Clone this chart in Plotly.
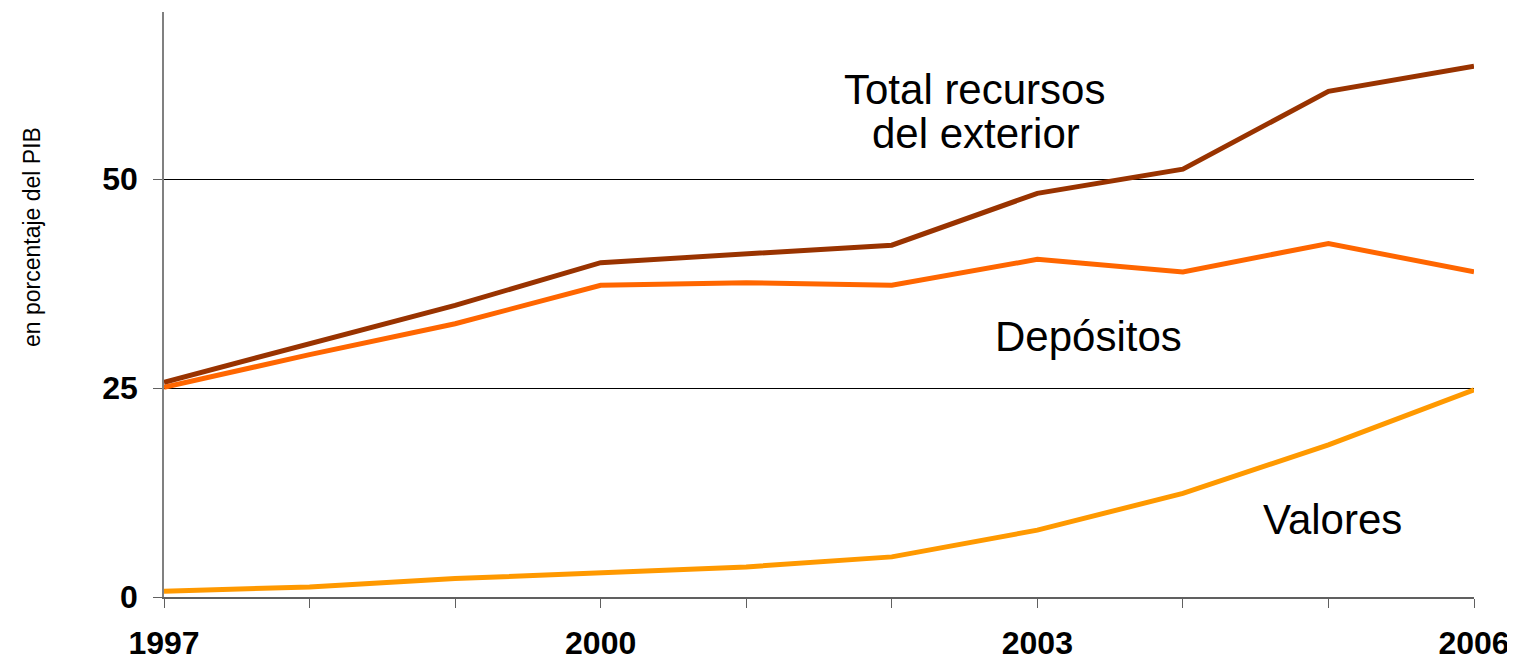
import plotly.graph_objects as go

years = [1997, 1998, 1999, 2000, 2001, 2002, 2003, 2004, 2005, 2006]
total_recursos = [25.7, 30.3, 34.9, 40.0, 41.1, 42.1, 48.3, 51.2, 60.5, 63.5]
depositos = [25.1, 29.0, 32.7, 37.3, 37.6, 37.3, 40.4, 38.9, 42.3, 38.9]
valores = [0.7, 1.2, 2.2, 2.9, 3.6, 4.8, 8.0, 12.4, 18.2, 24.8]
x_labels = ["1997", "", "", "2000", "", "", "2003", "", "", "2006"]
y_ticks = [0, 25, 50]

FONT = "Liberation Sans, Arial, sans-serif"

fig = go.Figure()
fig.add_trace(go.Scatter(x=years, y=valores, mode="lines",
                         line=dict(color="#FF9900", width=5), name="Valores"))
fig.add_trace(go.Scatter(x=years, y=depositos, mode="lines",
                         line=dict(color="#FF6600", width=5), name="Depósitos"))
fig.add_trace(go.Scatter(x=years, y=total_recursos, mode="lines",
                         line=dict(color="#993300", width=5), name="Total recursos del exterior"))

fig.update_layout(
    width=1507, height=652,
    margin=dict(l=156, r=41, t=4, b=63, autoexpand=False),
    paper_bgcolor="white", plot_bgcolor="white",
    showlegend=False,
    font=dict(family=FONT, color="black"),
    xaxis=dict(range=[1997, 2006], tickvals=years, ticktext=x_labels,
               ticks="outside", ticklen=9, tickcolor="#606060", tickwidth=1,
               showline=True, linecolor="#606060", linewidth=1.5,
               showgrid=False, zeroline=False, automargin=False,
               tickfont=dict(family=FONT, size=32, color="black", weight="bold"),
               ticklabelstandoff=8),
    yaxis=dict(range=[0, 70], tickvals=y_ticks,
               ticks="outside", ticklen=9, tickcolor="#606060", tickwidth=1,
               showline=True, linecolor="#808080", linewidth=1.5,
               showgrid=True, gridcolor="black", gridwidth=1,
               zeroline=False, automargin=False,
               tickfont=dict(family=FONT, size=32, color="black", weight="bold"),
               ticklabelstandoff=9),
)

fig.add_annotation(x=(32 - 164) / 1310, xref="paper", xanchor="center",
                   y=(597 - 237) / 585, yref="paper", yanchor="middle",
                   text="en porcentaje del PIB", textangle=-90, showarrow=False,
                   font=dict(family=FONT, size=23, color="black"))
fig.add_annotation(x=2002.57, y=60.7, text="Total recursos", showarrow=False,
                   font=dict(family=FONT, size=42, color="black"))
fig.add_annotation(x=2002.58, y=55.45, text="del exterior", showarrow=False,
                   font=dict(family=FONT, size=42, color="black"))
fig.add_annotation(x=2003.35, y=31.2, text="Depósitos", showarrow=False,
                   font=dict(family=FONT, size=42, color="black"))
fig.add_annotation(x=2005.03, y=9.33, text="Valores", showarrow=False,
                   font=dict(family=FONT, size=42, color="black"))

fig.write_html("out.html")
